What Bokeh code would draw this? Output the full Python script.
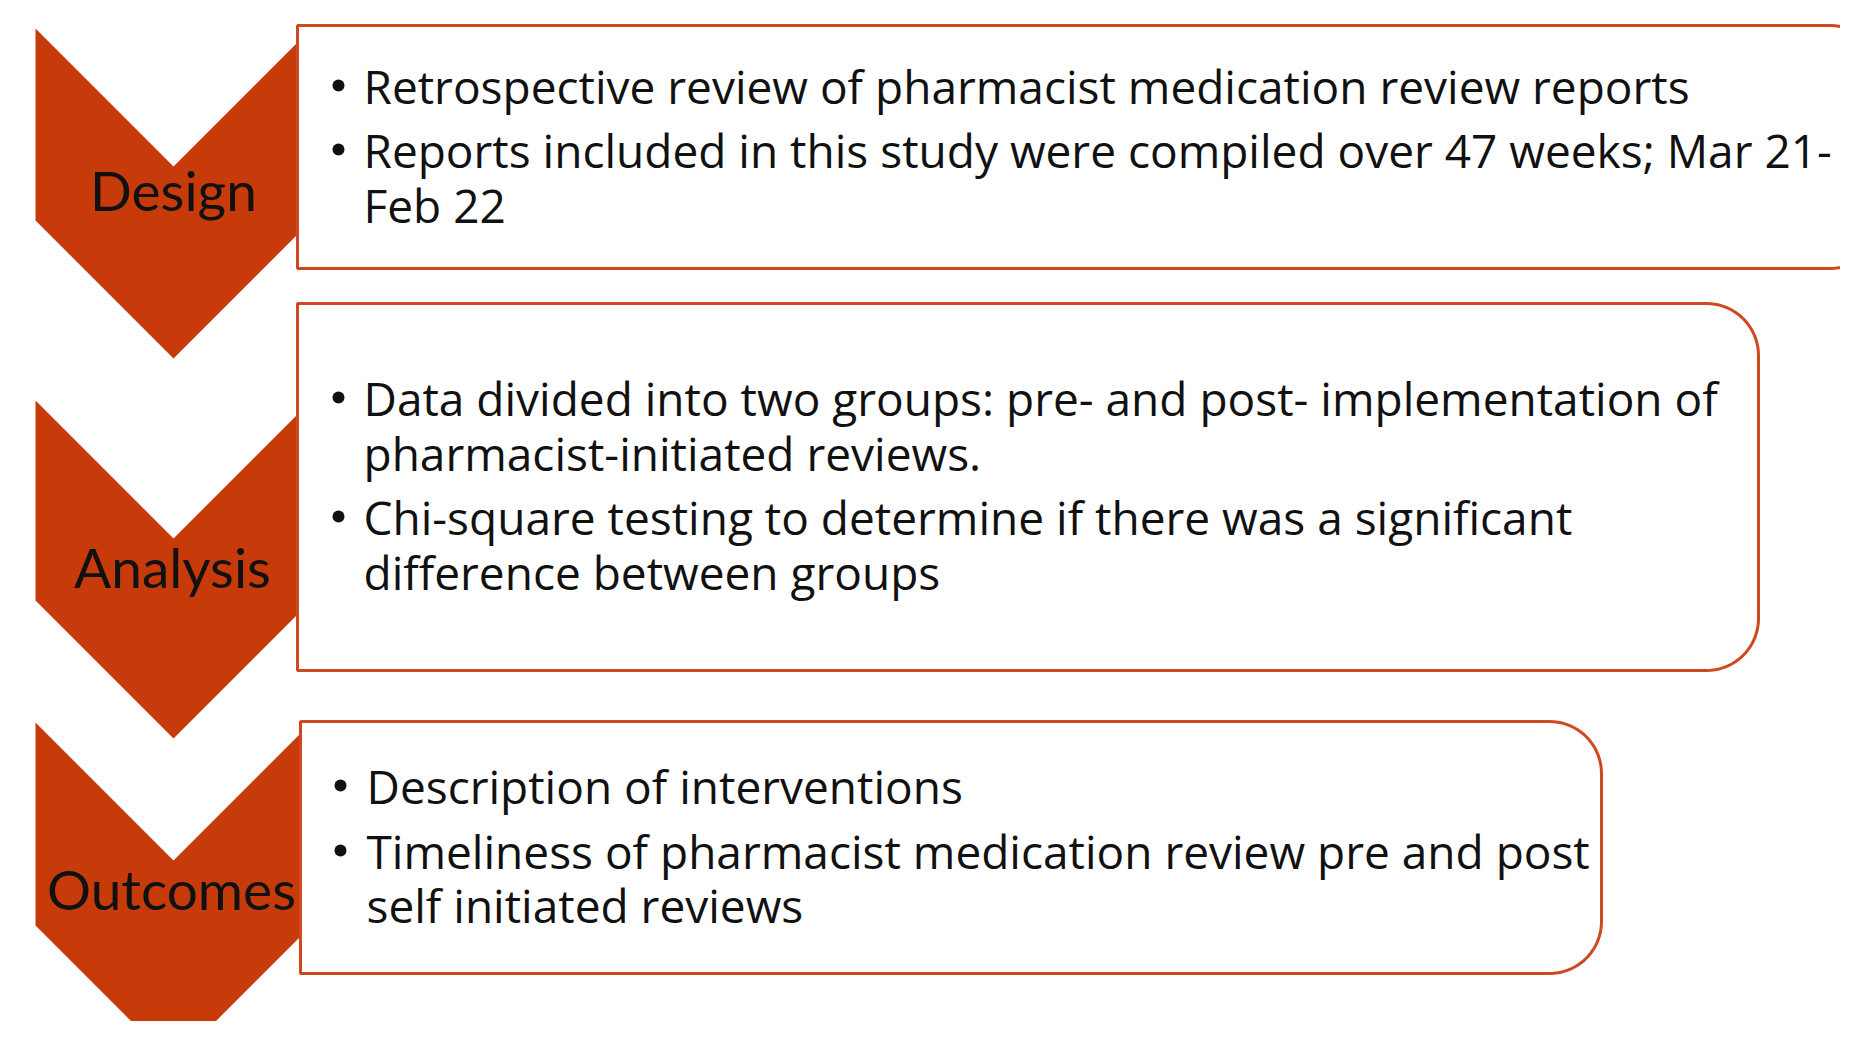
import numpy as np
from bokeh.plotting import figure
from bokeh.models import Range1d
from bokeh.core.properties import value
from bokeh.embed import file_html
from bokeh.resources import INLINE

# ---- content -------------------------------------------------------------
steps = ["Design", "Analysis", "Outcomes"]

# each step: list of bullets, each bullet a list of wrapped lines
step_bullets = [
    [["Retrospective review of pharmacist medication review reports"],
     ["Reports included in this study were compiled over 47 weeks; Mar 21-", "Feb 22"]],
    [["Data divided into two groups: pre- and post- implementation of",
      "pharmacist-initiated reviews."],
     ["Chi-square testing to determine if there was a significant",
      "difference between groups"]],
    [["Description of interventions"],
     ["Timeliness of pharmacist medication review pre and post",
      "self initiated reviews"]],
]

# ---- layout (page pixel coordinates) -------------------------------------
CHEV_TOP = [28, 400, 722]
CHEV_SIDE = [192, 200, 203]
CHEV_LEFT = 35
CHEV_HALF = 138
LABEL_BASE = [189, 566, 888]
LABEL_X = [173, 172, 171]

BOXES = [(297, 25, 1882, 268), (297, 303, 1758, 670), (300, 721, 1601, 973)]
RADIUS = 52
LINE_BASES = [[[85], [149, 204]],
              [[397, 452], [516, 571]],
              [[785], [850, 904]]]
BULLET_X = [338, 338, 340]
TEXT_X = [363, 363, 366]

CHEV_COLOR = "#C73B0A"
BORDER_COLOR = "#D04820"
LABEL_FONT = "Lato"
BODY_FONT = "Open Sans"

p = figure(width=1840, height=1021, x_range=Range1d(0, 1840), y_range=Range1d(1021, 0),
           output_backend="svg", toolbar_location=None, min_border=0)
p.axis.visible = False
p.grid.visible = False
p.outline_line_color = None
p.background_fill_color = "white"

# chevrons
for top, side in zip(CHEV_TOP, CHEV_SIDE):
    cx = CHEV_LEFT + CHEV_HALF
    right = CHEV_LEFT + 2 * CHEV_HALF
    xs = [CHEV_LEFT, cx, right, right, cx, CHEV_LEFT]
    ys = [top, top + CHEV_HALF, top, top + side, top + side + CHEV_HALF, top + side]
    p.patch(xs, ys, fill_color=CHEV_COLOR, line_color=None)


def right_rounded(l, t, r, b, rad):
    a1 = np.linspace(-np.pi / 2, 0, 20)
    a2 = np.linspace(0, np.pi / 2, 20)
    xs = [l] + list(r - rad + rad * np.cos(a1)) + list(r - rad + rad * np.cos(a2)) + [l]
    ys = [t] + list(t + rad + rad * np.sin(a1)) + list(b - rad + rad * np.sin(a2)) + [b]
    return xs, ys


for (l, t, r, b) in BOXES:
    xs, ys = right_rounded(l, t, r, b, RADIUS)
    p.patch(xs, ys, fill_color="white", line_color=BORDER_COLOR, line_width=3)

# step labels
p.text(x=LABEL_X, y=LABEL_BASE, text=steps, text_align="center", text_baseline="alphabetic",
       text_font=value(LABEL_FONT), text_font_size="55px", text_color="#111111")

# bullet texts
for i, bullets in enumerate(step_bullets):
    for j, lines in enumerate(bullets):
        bases = LINE_BASES[i][j]
        p.scatter(x=[BULLET_X[i]], y=[bases[0]], size=12, marker="circle",
                  fill_color="#111111", line_color=None)
        p.text(x=[TEXT_X[i]] * len(lines), y=bases, text=lines, text_align="left",
               text_baseline="alphabetic", text_font=value(BODY_FONT), text_font_size="46px",
               text_color="#111111")

open("out.html", "w").write(file_html(p, INLINE))
